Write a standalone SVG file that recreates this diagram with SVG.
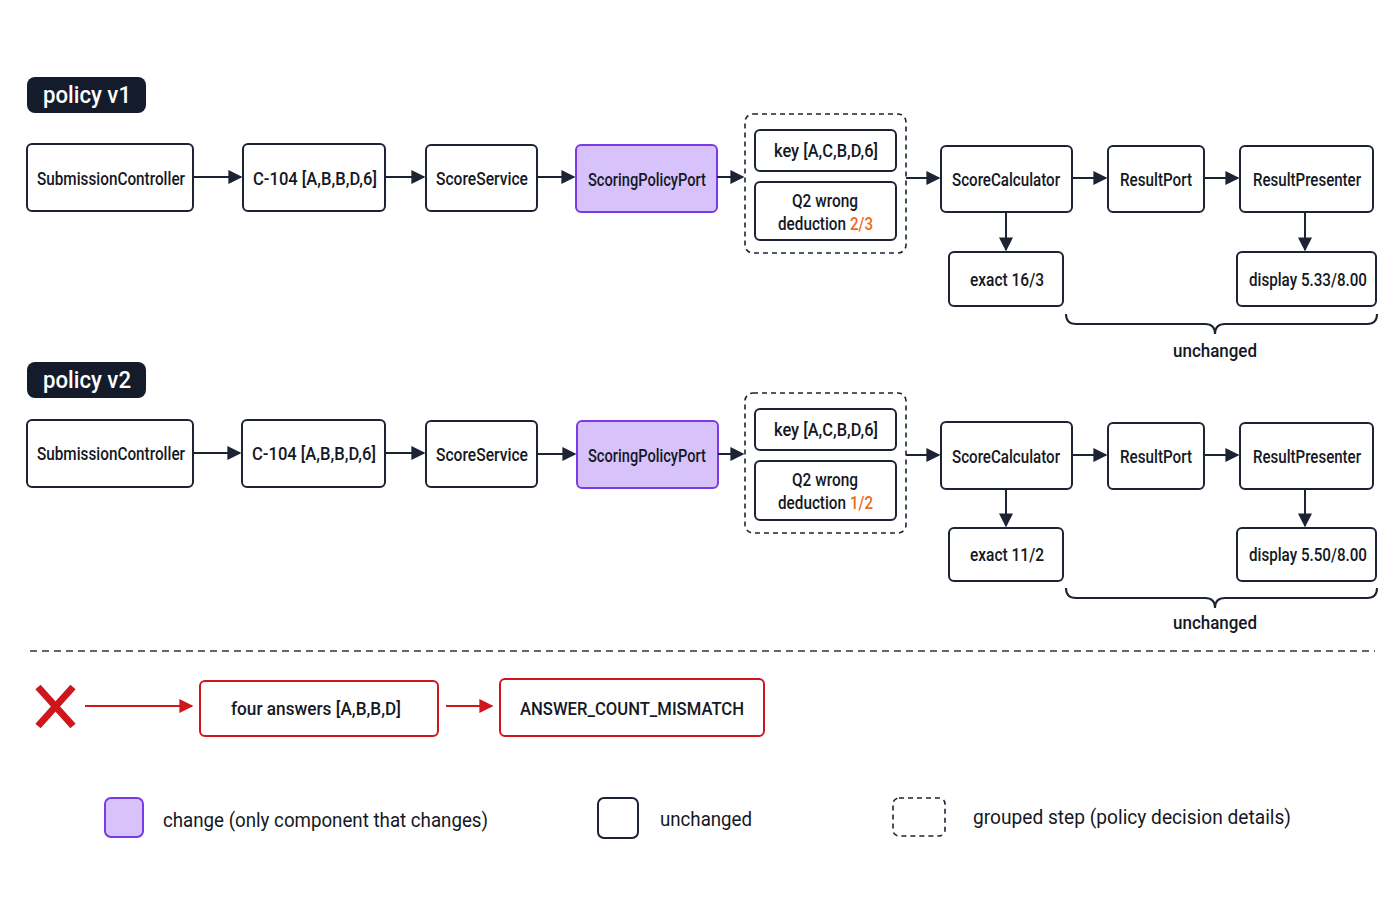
<svg xmlns="http://www.w3.org/2000/svg" width="1400" height="900" viewBox="0 0 1400 900">
<defs>
<marker id="ah" viewBox="0 0 10 10" refX="9" refY="5" markerWidth="7" markerHeight="7" orient="auto"><path d="M0,0L10,5L0,10z" fill="#1c2333"/></marker>
<marker id="ahr" viewBox="0 0 10 10" refX="9" refY="5" markerWidth="7" markerHeight="7" orient="auto"><path d="M0,0L10,5L0,10z" fill="#d0161d"/></marker>
</defs>
<style>
text{font-family:Roboto,"Liberation Sans",Arial,sans-serif;font-weight:500;font-size:18px;fill:#141824;text-anchor:middle;dominant-baseline:central}
.n{fill:#fff;stroke:#1c2333;stroke-width:2}
.p{fill:#d8c2fb;stroke:#7a3be6;stroke-width:2}
.g{fill:none;stroke:#1c2333;stroke-width:1.6;stroke-dasharray:5 4}
.e{fill:#fff;stroke:#d0161d;stroke-width:2}
.c{stroke:#1c2333;stroke-width:2;fill:none;marker-end:url(#ah)}
.cr{stroke:#d0161d;stroke-width:2;fill:none;marker-end:url(#ahr)}
.pill{fill:#141c2c}
.pt{fill:#fff;font-size:23px}
.o{fill:#ee6a1a;text-anchor:start}
.d{text-anchor:end}
.l{text-anchor:start;font-size:20px;font-weight:400}
</style>
<rect width="1400" height="900" fill="#fff"/>
<g id="label-v1"><rect class="pill" x="27" y="77" width="119" height="36" rx="8"/><text class="pt" x="87" y="95" textLength="88" lengthAdjust="spacingAndGlyphs">policy v1</text></g>
<g id="label-v2"><rect class="pill" x="27" y="362" width="119" height="36" rx="8"/><text class="pt" x="87" y="380" textLength="88" lengthAdjust="spacingAndGlyphs">policy v2</text></g>
<g id="v1-sub"><rect class="n" x="27" y="144" width="166" height="67" rx="5"/><text x="111" y="178" textLength="148" lengthAdjust="spacingAndGlyphs">SubmissionController</text></g>
<g id="v1-c104"><rect class="n" x="243" y="144" width="142" height="67" rx="5"/><text x="315" y="178" textLength="124" lengthAdjust="spacingAndGlyphs">C-104 [A,B,B,D,6]</text></g>
<g id="v1-ss"><rect class="n" x="426" y="145" width="111" height="66" rx="5"/><text x="482" y="178" textLength="92" lengthAdjust="spacingAndGlyphs">ScoreService</text></g>
<g id="v1-spp"><rect class="p" x="576" y="145" width="141" height="67" rx="5"/><text x="647" y="179" textLength="118" lengthAdjust="spacingAndGlyphs">ScoringPolicyPort</text></g>
<g id="v1-grp"><rect class="g" x="745" y="114" width="161" height="139" rx="8"/>
<rect class="n" x="755" y="130" width="141" height="41" rx="5"/><text x="826" y="150" textLength="104" lengthAdjust="spacingAndGlyphs">key [A,C,B,D,6]</text>
<rect class="n" x="755" y="182" width="141" height="58" rx="5"/><text x="825" y="200" textLength="66" lengthAdjust="spacingAndGlyphs">Q2 wrong</text><text class="d" x="846" y="223" textLength="68" lengthAdjust="spacingAndGlyphs">deduction</text><text class="o" x="850" y="223" textLength="23" lengthAdjust="spacingAndGlyphs">2/3</text></g>
<g id="v1-calc"><rect class="n" x="941" y="146" width="131" height="66" rx="5"/><text x="1006" y="179" textLength="108" lengthAdjust="spacingAndGlyphs">ScoreCalculator</text></g>
<g id="v1-rp"><rect class="n" x="1108" y="146" width="96" height="66" rx="5"/><text x="1156" y="179" textLength="72" lengthAdjust="spacingAndGlyphs">ResultPort</text></g>
<g id="v1-pres"><rect class="n" x="1240" y="146" width="133" height="66" rx="5"/><text x="1307" y="179" textLength="108" lengthAdjust="spacingAndGlyphs">ResultPresenter</text></g>
<g id="v1-exact"><rect class="n" x="949" y="252" width="114" height="54" rx="5"/><text x="1007" y="279" textLength="74" lengthAdjust="spacingAndGlyphs">exact 16/3</text></g>
<g id="v1-disp"><rect class="n" x="1237" y="252" width="139" height="54" rx="5"/><text x="1308" y="279" textLength="118" lengthAdjust="spacingAndGlyphs">display 5.33/8.00</text></g>
<g id="v1-unch"><path d="M1066,314 q0,10 10,10 H1205 q10,0 10,10 q0,-10 10,-10 H1367 q10,0 10,-10" fill="none" stroke="#1c2333" stroke-width="2"/><text x="1215" y="350" textLength="84" lengthAdjust="spacingAndGlyphs">unchanged</text></g>

<g id="v2-sub"><rect class="n" x="27" y="420" width="166" height="67" rx="5"/><text x="111" y="453" textLength="148" lengthAdjust="spacingAndGlyphs">SubmissionController</text></g>
<g id="v2-c104"><rect class="n" x="242" y="420" width="143" height="67" rx="5"/><text x="314" y="453" textLength="124" lengthAdjust="spacingAndGlyphs">C-104 [A,B,B,D,6]</text></g>
<g id="v2-ss"><rect class="n" x="426" y="421" width="111" height="66" rx="5"/><text x="482" y="454" textLength="92" lengthAdjust="spacingAndGlyphs">ScoreService</text></g>
<g id="v2-spp"><rect class="p" x="577" y="421" width="141" height="67" rx="5"/><text x="647" y="455" textLength="118" lengthAdjust="spacingAndGlyphs">ScoringPolicyPort</text></g>
<g id="v2-grp"><rect class="g" x="745" y="393" width="161" height="140" rx="8"/>
<rect class="n" x="755" y="409" width="141" height="41" rx="5"/><text x="826" y="429" textLength="104" lengthAdjust="spacingAndGlyphs">key [A,C,B,D,6]</text>
<rect class="n" x="755" y="461" width="141" height="59" rx="5"/><text x="825" y="479" textLength="66" lengthAdjust="spacingAndGlyphs">Q2 wrong</text><text class="d" x="846" y="502" textLength="68" lengthAdjust="spacingAndGlyphs">deduction</text><text class="o" x="850" y="502" textLength="23" lengthAdjust="spacingAndGlyphs">1/2</text></g>
<g id="v2-calc"><rect class="n" x="941" y="422" width="131" height="67" rx="5"/><text x="1006" y="456" textLength="108" lengthAdjust="spacingAndGlyphs">ScoreCalculator</text></g>
<g id="v2-rp"><rect class="n" x="1108" y="423" width="96" height="66" rx="5"/><text x="1156" y="456" textLength="72" lengthAdjust="spacingAndGlyphs">ResultPort</text></g>
<g id="v2-pres"><rect class="n" x="1240" y="423" width="133" height="66" rx="5"/><text x="1307" y="456" textLength="108" lengthAdjust="spacingAndGlyphs">ResultPresenter</text></g>
<g id="v2-exact"><rect class="n" x="949" y="528" width="114" height="53" rx="5"/><text x="1007" y="554" textLength="74" lengthAdjust="spacingAndGlyphs">exact 11/2</text></g>
<g id="v2-disp"><rect class="n" x="1237" y="528" width="139" height="53" rx="5"/><text x="1308" y="554" textLength="118" lengthAdjust="spacingAndGlyphs">display 5.50/8.00</text></g>
<g id="v2-unch"><path d="M1066,588 q0,10 10,10 H1205 q10,0 10,10 q0,-10 10,-10 H1367 q10,0 10,-10" fill="none" stroke="#1c2333" stroke-width="2"/><text x="1215" y="622" textLength="84" lengthAdjust="spacingAndGlyphs">unchanged</text></g>

<line x1="30" y1="651" x2="1375" y2="651" stroke="#333" stroke-width="1.3" stroke-dasharray="7 5"/>

<g id="err-x"><path d="M38,687L73,726M73,687L38,726" stroke="#d0161d" stroke-width="7"/></g>
<g id="err-four"><rect class="e" x="200" y="681" width="238" height="55" rx="5"/><text x="316" y="708" textLength="170" lengthAdjust="spacingAndGlyphs">four answers [A,B,B,D]</text></g>
<g id="err-mm"><rect class="e" x="500" y="679" width="264" height="57" rx="5"/><text x="632" y="708" textLength="224" lengthAdjust="spacingAndGlyphs">ANSWER_COUNT_MISMATCH</text></g>

<g id="connectors">
<line class="c" x1="193" y1="177" x2="241" y2="177"/>
<line class="c" x1="385" y1="177" x2="424" y2="177"/>
<line class="c" x1="537" y1="177" x2="574" y2="177"/>
<line class="c" x1="717" y1="177" x2="743" y2="177"/>
<line class="c" x1="906" y1="178" x2="939" y2="178"/>
<line class="c" x1="1072" y1="178" x2="1106" y2="178"/>
<line class="c" x1="1204" y1="178" x2="1238" y2="178"/>
<line class="c" x1="1006" y1="212" x2="1006" y2="250"/>
<line class="c" x1="1305" y1="212" x2="1305" y2="250"/>
<line class="c" x1="193" y1="453" x2="240" y2="453"/>
<line class="c" x1="385" y1="453" x2="424" y2="453"/>
<line class="c" x1="537" y1="454" x2="575" y2="454"/>
<line class="c" x1="718" y1="454" x2="743" y2="454"/>
<line class="c" x1="906" y1="455" x2="939" y2="455"/>
<line class="c" x1="1072" y1="455" x2="1106" y2="455"/>
<line class="c" x1="1204" y1="455" x2="1238" y2="455"/>
<line class="c" x1="1006" y1="489" x2="1006" y2="526"/>
<line class="c" x1="1305" y1="489" x2="1305" y2="526"/>
<line class="cr" x1="85" y1="706" x2="192" y2="706"/>
<line class="cr" x1="446" y1="706" x2="492" y2="706"/>
</g>

<g id="legend">
<rect class="p" x="105" y="798" width="38" height="39" rx="6"/><text class="l" x="163" y="820" textLength="325" lengthAdjust="spacingAndGlyphs">change (only component that changes)</text>
<rect class="n" x="598" y="798" width="40" height="40" rx="6"/><text class="l" x="660" y="819" textLength="92" lengthAdjust="spacingAndGlyphs">unchanged</text>
<rect class="g" x="893" y="798" width="52" height="38" rx="6"/><text class="l" x="973" y="817" textLength="318" lengthAdjust="spacingAndGlyphs">grouped step (policy decision details)</text>
</g>
</svg>
